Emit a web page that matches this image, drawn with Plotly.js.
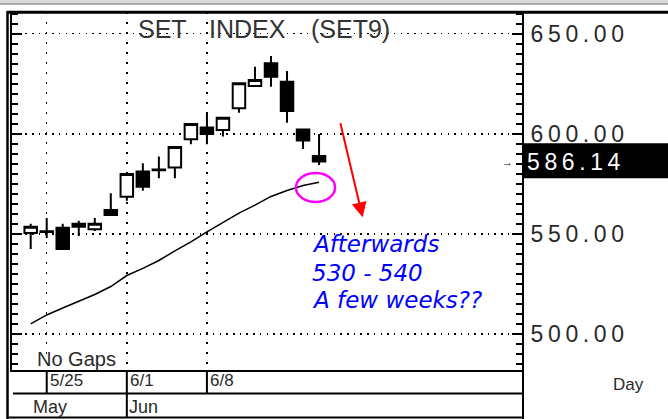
<!DOCTYPE html>
<html><head><meta charset="utf-8">
<script src="https://cdn.plot.ly/plotly-3.0.1.min.js"></script>
<style>
html,body{margin:0;padding:0;background:#fff;}
#chart{width:668px;height:419px;}
.ytick text, .y2tick text{letter-spacing:4.6px;}
</style></head><body><div id="chart"></div>
<script>
// ---- data ----
const dates  = ["5/22","5/25","5/26","5/27","5/28","5/29","6/1","6/2","6/3","6/4","6/5","6/8","6/9","6/10","6/11","6/12","6/15","6/16","6/17"];
const openV  = [550.5,551.3,553.0,555.0,552.3,561.9,568.6,581.1,581.8,583.2,597.3,603.2,601.9,612.7,623.9,635.2,626.0,602.2,588.9];
const highV  = [555.0,557.9,555.0,556.5,557.9,570.3,580.0,585.3,588.6,593.5,605.0,610.2,608.0,625.2,633.5,638.9,631.4,602.2,599.9];
const lowV   = [542.5,548.0,542.3,549.0,551.4,559.3,566.6,571.6,577.8,577.8,594.8,594.8,598.6,610.5,623.9,623.5,605.5,592.4,584.4];
const closeV = [553.5,551.0,542.5,553.6,555.0,559.4,579.9,573.6,582.1,593.4,604.9,599.9,608.0,625.2,626.9,628.5,611.4,596.6,586.14];
const maV    = [505.0,509.5,513.0,516.5,519.7,523.7,529.2,532.8,536.7,541.5,546.0,551.0,555.7,560.4,564.4,568.7,571.7,574.2,575.8];
const yTicks = [500, 550, 600, 650];
const tickDates = ["5/25","6/1","6/8"];
const months = ["May","Jun"];
const titleWords = ["SET","INDEX","(SET9)"];
const noteLines = ["Afterwards","530 - 540","A few weeks??"];

// ---- derived ----
const idx = dates.map((d,i)=>i);
const n = dates.length;
const lastClose = closeV[n-1];
const tickIdx = tickDates.map(d=>dates.indexOf(d));
const monthBreak = dates.findIndex(d=>d.split('/')[0] !== dates[0].split('/')[0]);

// pixel helpers for decorations
const L=12, R=522, T=12, B=370;
const px = x => (x-L)/(R-L);
const py = y => (B-y)/(B-T);
const yRange = [482.0, 660.84];

const traces = [
  {type:'candlestick', x:idx, open:openV, high:highV, low:lowV, close:closeV,
   increasing:{line:{color:'#000',width:2}, fillcolor:'#fff'},
   decreasing:{line:{color:'#000',width:2}, fillcolor:'#000'},
   whiskerwidth:0, hoverinfo:'skip', showlegend:false},
  {type:'scatter', mode:'lines', x:idx, y:maV, line:{color:'#000', width:1.5},
   hoverinfo:'skip', showlegend:false},
  {type:'scatter', mode:'markers', x:[idx[n-1]], y:[lastClose], yaxis:'y2',
   marker:{opacity:0}, hoverinfo:'skip', showlegend:false}
];

const S = [];
const line = (x0,y0,x1,y1,w,c)=>S.push({type:'line', xref:'paper', yref:'paper', x0:px(x0), x1:px(x1), y0:py(y0), y1:py(y1), line:{color:c||'#000', width:w}, layer:'above'});
S.push({type:'rect', xref:'paper', yref:'paper', x0:px(0), x1:px(668), y0:py(0), y1:py(3.5), fillcolor:'#d9d9d9', line:{width:0}, layer:'above'});
line(0,4,668,4,1,'#6f6070');
line(7,12.3,668,12.3,3);
line(7.5,11,7.5,419,2.5);
line(523,12,523,419,2);
line(13,393.5,523,393.5,2);
line(8,417.5,523,417.5,2);
tickIdx.forEach(i=>S.push({type:'line', xref:'x', yref:'paper', x0:i, x1:i, y0:py(371), y1:py(i===monthBreak?417.5:393.5), line:{color:'#000', width:2}, layer:'above'}));
S.push({type:'rect', xref:'paper', yref:'y', x0:px(523), x1:px(668), y0:lastClose-8.37, y1:lastClose+9.12, fillcolor:'#000', line:{width:0}, layer:'below'});
S.push({type:'circle', xref:'x', yref:'y', x0:16.56, x1:19.0, y0:565.9, y1:580.4, line:{color:'#ff00ff', width:2.5}, layer:'above'});

const ann = [];
const A = o => ann.push(Object.assign({showarrow:false, xref:'paper', yref:'paper', yanchor:'middle'}, o));
const fs = (size,color,family)=>({family:family||'Liberation Sans, Arial, sans-serif', size:size, color:color||'#2a2a2a'});
const titleX = [162.3, 247.5, 350];
titleWords.forEach((w,k)=>A({text:w, x:px(titleX[k]), y:py(29.2), xanchor:'center', font:fs(25,'#333')}));
A({text:'No Gaps', x:px(34.5), y:py(359), xanchor:'left', font:fs(20)});
tickDates.forEach((d,k)=>A({text:d, xref:'x', x:tickIdx[k], xanchor:'left', xshift:1, y:py(380), font:fs(17)}));
A({text:months[0], x:px(31), y:py(407), xanchor:'left', font:fs(18)});
A({text:months[1], xref:'x', x:monthBreak, xshift:0, y:py(407), xanchor:'left', font:fs(18)});
A({text:'Day', x:px(611), y:py(384.7), xanchor:'left', font:fs(17)});
const noteY = [243.5, 273, 300];
noteLines.forEach((t,k)=>A({text:'<i>'+t+'</i>', x:px(309.5), y:py(noteY[k]), xanchor:'left', font:fs(23,'#0000ff','DejaVu Sans, Verdana, sans-serif')}));
A({text:'→', x:px(507.5), y:py(161.5), xanchor:'center', font:fs(11,'#000')});
ann.push({xref:'x', yref:'y', x:20.72, y:558.3, axref:'x', ayref:'y', ax:19.31, ay:606.0,
  showarrow:true, arrowhead:2, arrowsize:1.5, arrowwidth:2, arrowcolor:'#ff0000', text:''});

const layout = {
  width:668, height:419, margin:{l:L, r:668-R, t:T, b:419-B},
  paper_bgcolor:'#fff', plot_bgcolor:'#fff', showlegend:false,
  boxgap:0.22, boxgroupgap:0,
  xaxis:{type:'linear', range:[-1.167, 30.668], tickvals:tickIdx, showticklabels:false, ticks:'',
    showgrid:true, gridcolor:'#000', griddash:'1.5px,8.5px', gridwidth:1.5,
    showline:true, linecolor:'#000', linewidth:2, zeroline:false,
    rangeslider:{visible:false}, fixedrange:true},
  yaxis:{side:'right', range:yRange, tickvals:yTicks, ticktext:yTicks.map(v=>v.toFixed(2)),
    ticks:'inside', ticklen:10, tickwidth:2, tickcolor:'#000',
    showline:true, linecolor:'#000', linewidth:2, mirror:'ticks',
    showgrid:true, gridcolor:'#000', griddash:'1.5px,5.2px', gridwidth:1.5, zeroline:false,
    tickfont:fs(23), ticklabelstandoff:2, fixedrange:true,
    minor:{dtick:5, ticks:'inside', ticklen:6, tickwidth:2, tickcolor:'#000', showgrid:false}},
  yaxis2:{overlaying:'y', side:'right', range:yRange, tickvals:[lastClose], ticktext:[lastClose.toFixed(2)],
    ticks:'', showgrid:false, zeroline:false, showline:false, tickfont:fs(23,'#fff'),
    ticklabelstandoff:4, fixedrange:true},
  shapes:S, annotations:ann
};

Plotly.newPlot('chart', traces, layout, {displayModeBar:false, staticPlot:true});
</script></body></html>
